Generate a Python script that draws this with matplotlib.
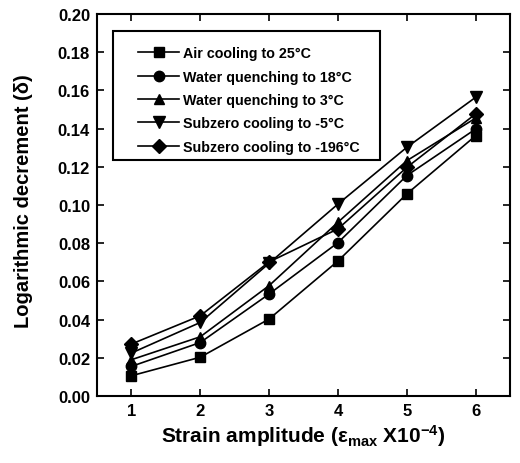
import matplotlib
matplotlib.use("Agg")
import matplotlib.pyplot as plt
from matplotlib.patches import Rectangle

plt.rcParams['font.family'] = ['Liberation Sans', 'DejaVu Sans']
plt.rcParams['mathtext.fontset'] = 'custom'
plt.rcParams['mathtext.rm'] = 'Liberation Sans:bold'
plt.rcParams['mathtext.it'] = 'Liberation Sans:bold:italic'
plt.rcParams['mathtext.bf'] = 'Liberation Sans:bold'
plt.rcParams['axes.unicode_minus'] = False

strain = [1, 2, 3, 4, 5, 6]
air_25 = [0.0106, 0.0203, 0.0403, 0.0707, 0.1058, 0.1363]
water_18 = [0.0155, 0.0280, 0.0534, 0.0803, 0.1154, 0.1398]
water_3 = [0.0190, 0.0310, 0.0578, 0.0910, 0.1232, 0.1455]
subzero_5 = [0.0225, 0.0385, 0.0695, 0.1005, 0.1302, 0.1564]
subzero_196 = [0.0272, 0.0420, 0.0702, 0.0875, 0.1197, 0.1477]

labels = ["Air cooling to 25°C", "Water quenching to 18°C", "Water quenching to 3°C",
          "Subzero cooling to -5°C", "Subzero cooling to -196°C"]
yticks = [0.00, 0.02, 0.04, 0.06, 0.08, 0.10, 0.12, 0.14, 0.16, 0.18, 0.20]

fig = plt.figure(figsize=(5.2, 4.64), dpi=100)
ax = fig.add_axes([0.1865, 0.1444, 0.7945, 0.8233])

series = [air_25, water_18, water_3, subzero_5, subzero_196]
markers = ['s', 'o', '^', 'v', 'D']
msizes = [6.5, 7.5, 7.5, 8.5, 7]
handles = []
for ys, m, ms, lab in zip(series, markers, msizes, labels):
    h, = ax.plot(strain, ys, color='black', lw=1.2, marker=m, ms=ms,
                 mfc='black', mec='black', label=lab)
    handles.append(h)

ax.set_xlim(0.5, 6.5)
ax.set_ylim(0, 0.2)
ax.set_xticks(strain)
ax.set_yticks(yticks)
ax.set_yticklabels([f"{v:.2f}" for v in yticks])
for lab in ax.get_xticklabels() + ax.get_yticklabels():
    lab.set_fontweight('bold')
ax.tick_params(direction='in', length=5, width=1.2, top=True, right=True,
               labelsize=12, pad=5)
for s in ax.spines.values():
    s.set_linewidth(1.5)

ax.set_xlabel("Strain amplitude (ε$_{\\mathrm{max}}$ X10$^{-4}$)", fontsize=15,
              fontweight='bold', labelpad=3)
ax.set_ylabel("Logarithmic decrement (δ)", fontsize=14.5, fontweight='bold')
ax.yaxis.set_label_coords(-0.155, 0.512)

leg = ax.legend(handles=handles, loc='upper left', bbox_to_anchor=(0.099, 0.915),
                frameon=False, borderpad=0, borderaxespad=0, handlelength=2.9,
                handletextpad=0.25, labelspacing=0.65,
                prop={'weight': 'bold', 'size': 10.3})
ax.add_patch(Rectangle((0.038, 0.618), 0.647, 0.337, transform=ax.transAxes,
                       fill=False, lw=1.5, ec='black', zorder=5))

fig.savefig("out.png", dpi=100)
